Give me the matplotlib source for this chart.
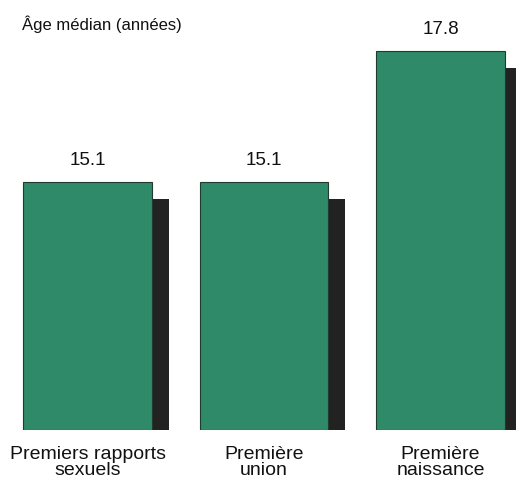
import matplotlib
matplotlib.use('Agg')
import matplotlib.pyplot as plt
import numpy as np

plt.rcParams['font.family'] = ['Liberation Sans', 'DejaVu Sans']

categories = ['Premiers rapports\nsexuels', 'Première\nunion', 'Première\nnaissance']
values = [15.1, 15.1, 17.8]
labels = ['15.1', '15.1', '17.8']

BASE = 10.0
GREEN = '#2e8a69'
SHADOW = '#222222'

fig = plt.figure(figsize=(5.16, 4.86), dpi=100)
ax = fig.add_axes([0, 0.1152, 1, 0.8848])

x = np.arange(len(categories))
width = 0.73
vals = np.array(values)

# drop shadow: same bar shifted right and down
ax.bar(x + 0.094, vals - BASE - 0.35, width, bottom=BASE, color=SHADOW,
       edgecolor='none', zorder=1)
ax.bar(x, vals - BASE, width, bottom=BASE, color=GREEN,
       edgecolor='#1f3b30', linewidth=0.8, zorder=2)

for xi, v, lab in zip(x, vals, labels):
    ax.text(xi, v + 0.27, lab, ha='center', va='bottom', fontsize=13.5,
            color='#111111')

for xi, cat in zip(x, categories):
    ax.text(xi, BASE - 0.32, cat, ha='center', va='top', fontsize=14,
            color='#111111', linespacing=0.95)

ax.text(-0.37, 18.35, 'Âge médian (années)', ha='left', va='center',
        fontsize=12, color='#111111')

ax.set_xlim(-0.496, 2.428)
ax.set_ylim(BASE, 18.845)
ax.axis('off')
for a in ax.texts:
    a.set_clip_on(False)

fig.savefig('out.png', dpi=100, facecolor='white')
